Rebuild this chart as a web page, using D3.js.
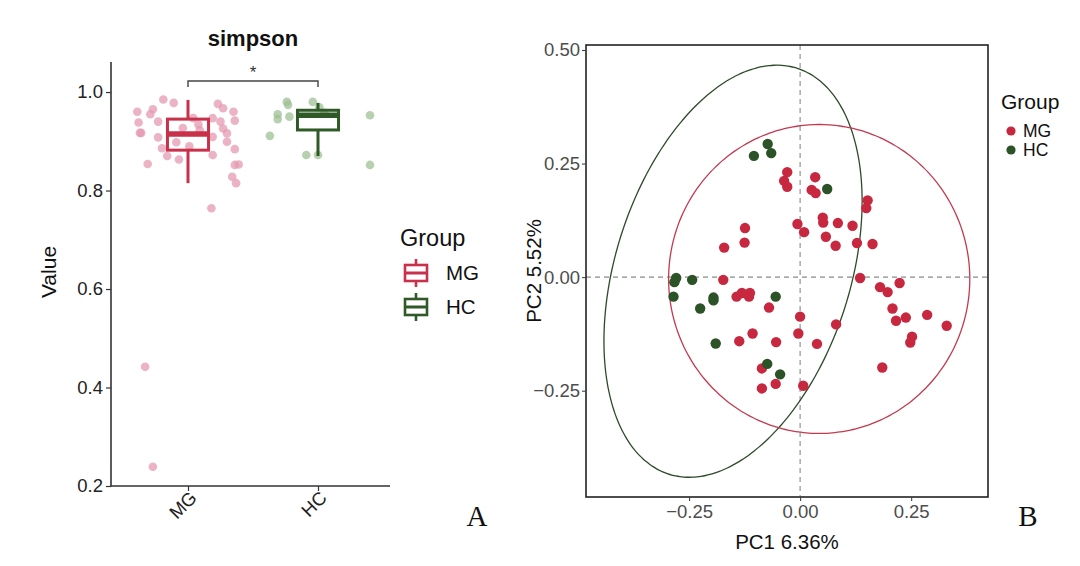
<!DOCTYPE html>
<html><head><meta charset="utf-8">
<script src="https://cdn.jsdelivr.net/npm/d3@7"></script>
<style>body{margin:0;background:#fff}</style>
</head><body>
<svg id="c" width="1080" height="566" xmlns="http://www.w3.org/2000/svg"></svg>
<script>
// ---------- Panel A data ----------
const groups = ["MG", "HC"];
const mgValues = [0.985,0.978,0.960,0.965,0.955,0.938,0.940,0.917,0.917,0.908,0.886,0.870,0.863,0.854,0.890,0.934,0.923,0.976,0.967,0.960,0.947,0.940,0.942,0.926,0.916,0.909,0.899,0.884,0.872,0.852,0.853,0.828,0.815,0.764,0.442,0.239,0.927,0.947,0.898];
const mgJitter = [-0.19,-0.11,-0.39,-0.27,-0.29,-0.38,-0.23,-0.37,-0.36,-0.23,-0.20,-0.16,-0.07,-0.31,0.01,0.08,0.09,0.23,0.27,0.35,0.19,0.25,0.36,0.27,0.30,0.19,0.30,0.36,0.19,0.36,0.39,0.34,0.37,0.18,-0.33,-0.27,-0.04,0.04,-0.09];
const hcValues = [0.980,0.974,0.955,0.945,0.950,0.911,0.980,0.969,0.872,0.872,0.953,0.852,0.958];
const hcJitter = [-0.24,-0.23,-0.31,-0.31,-0.22,-0.37,-0.04,0.01,-0.09,0.00,0.40,0.40,0.05];
const boxLow    = [0.815, 0.870];
const boxQ1     = [0.882, 0.923];
const boxMedian = [0.915, 0.953];
const boxQ3     = [0.945, 0.963];
const boxHigh   = [0.984, 0.978];
const yTicksA = [0.2, 0.4, 0.6, 0.8, 1.0];
const sigLabel = "*";

// ---------- Panel B data ----------
const mgPC1 = [-0.029,-0.036,-0.029,0.034,0.026,0.035,-0.006,0.009,-0.124,-0.125,-0.171,-0.173,-0.143,-0.131,-0.113,-0.115,-0.070,0.000,-0.004,0.038,-0.107,-0.137,-0.054,-0.086,-0.055,-0.086,0.007,0.152,0.149,0.051,0.052,0.085,0.118,0.058,0.080,0.128,0.163,0.135,0.180,0.197,0.224,0.208,0.216,0.238,0.286,0.330,0.252,0.248,0.185,0.081];
const mgPC2 = [0.231,0.212,0.199,0.220,0.192,0.185,0.117,0.099,0.108,0.076,0.065,-0.006,-0.043,-0.035,-0.035,-0.043,-0.067,-0.087,-0.124,-0.147,-0.124,-0.141,-0.143,-0.201,-0.235,-0.245,-0.239,0.169,0.152,0.131,0.120,0.119,0.113,0.089,0.069,0.075,0.073,-0.002,-0.022,-0.033,-0.013,-0.069,-0.096,-0.089,-0.083,-0.107,-0.131,-0.144,-0.199,-0.104];
const hcPC1 = [-0.073,-0.065,-0.104,0.061,-0.279,-0.283,-0.285,-0.243,-0.195,-0.195,-0.225,-0.055,-0.190,-0.074,-0.045];
const hcPC2 = [0.293,0.273,0.267,0.194,-0.002,-0.011,-0.043,-0.006,-0.045,-0.051,-0.069,-0.043,-0.146,-0.191,-0.214];
// ellipse parameters: [centerX, centerY, semiMajor, semiMinor, tiltDeg]
const mgEllipse = [0.043, -0.004, 0.340, 0.339, 0];
const hcEllipse = [-0.151, 0.013, 0.4695, 0.2641, 18.2];
const xTicksB = [-0.25, 0, 0.25];
const yTicksB = [-0.25, 0, 0.25, 0.5];

const colMG = "#c8283f", colHC = "#2c5227";
const boxMG = "#c9304a", boxHC = "#2f5a27";
const ptMG = "#e49ab0", ptHC = "#9fc095";
const font = "'Liberation Sans', Arial, sans-serif";

const svg = d3.select("#c");
svg.append("rect").attr("width",1080).attr("height",566).attr("fill","#fff");

// ================= Panel A =================
const A = svg.append("g").attr("font-family", font);
const xA = d3.scalePoint().domain(groups).range([188, 318]);
const stepA = xA(groups[1]) - xA(groups[0]);
const yA = d3.scaleLinear().domain([0.2, 1.061]).range([486, 62]);

// axes
const axY = A.append("g").attr("transform","translate(111,0)")
  .call(d3.axisLeft(yA).tickValues(yTicksA).tickFormat(d3.format(".1f")).tickSize(5).tickSizeOuter(0));
const axX = A.append("g").attr("transform","translate(0,486)")
  .call(d3.axisBottom(xA).tickSize(5).tickSizeOuter(0).tickFormat(""));
[axY, axX].forEach(g => {
  g.select(".domain").remove();
  g.selectAll("line").attr("stroke","#333").attr("stroke-width",1.2);
});
axY.selectAll("text").attr("font-size",18.5).attr("fill","#222").attr("font-family",font).attr("x",-8);
A.append("line").attr("x1",111).attr("x2",111).attr("y1",yA.range()[1]).attr("y2",486.5).attr("stroke","#333").attr("stroke-width",1.6);
A.append("line").attr("x1",110.5).attr("x2",390).attr("y1",486).attr("y2",486).attr("stroke","#333").attr("stroke-width",1.6);
groups.forEach(g => {
  A.append("text").attr("transform",`translate(${xA(g)+10},${499}) rotate(-45)`)
    .attr("text-anchor","end").attr("font-size",18.5).attr("fill","#222").text(g);
});

// points
const ptsA = [];
mgValues.forEach((v,i)=>ptsA.push({g:"MG", v, j:mgJitter[i]}));
hcValues.forEach((v,i)=>ptsA.push({g:"HC", v, j:hcJitter[i]}));
A.append("g").selectAll("circle").data(ptsA).join("circle")
  .attr("cx", d => xA(d.g) + d.j*stepA).attr("cy", d => yA(d.v)).attr("r",4.3)
  .attr("fill", d => d.g==="MG" ? ptMG : ptHC).attr("opacity",0.75);

// boxes
const hw = 0.158*stepA;
groups.forEach((g,i) => {
  const c = i===0 ? boxMG : boxHC, cx = xA(g);
  const bg = A.append("g").attr("stroke", c).attr("fill","none");
  bg.append("line").attr("x1",cx).attr("x2",cx).attr("y1",yA(boxHigh[i])).attr("y2",yA(boxQ3[i])).attr("stroke-width",3);
  bg.append("line").attr("x1",cx).attr("x2",cx).attr("y1",yA(boxQ1[i])).attr("y2",yA(boxLow[i])).attr("stroke-width",3);
  bg.append("rect").attr("x",cx-hw).attr("y",yA(boxQ3[i])).attr("width",2*hw)
    .attr("height",yA(boxQ1[i])-yA(boxQ3[i])).attr("stroke-width",3);
  bg.append("line").attr("x1",cx-hw).attr("x2",cx+hw).attr("y1",yA(boxMedian[i])).attr("y2",yA(boxMedian[i])).attr("stroke-width",5.5);
});

// significance bracket
const sy = 81;
A.append("path").attr("d",`M${xA("MG")},${sy+6}V${sy}H${xA("HC")}V${sy+6}`)
  .attr("fill","none").attr("stroke","#444").attr("stroke-width",1.4);
A.append("text").attr("x",(xA("MG")+xA("HC"))/2).attr("y",sy-3).attr("text-anchor","middle")
  .attr("font-size",17).attr("fill","#333").text(sigLabel);

// title & labels
A.append("text").attr("x",(xA("MG")+xA("HC"))/2).attr("y",46).attr("text-anchor","middle")
  .attr("font-size",22).attr("font-weight","bold").attr("fill","#111").text("simpson");
A.append("text").attr("transform","translate(56,272) rotate(-90)").attr("text-anchor","middle")
  .attr("font-size",21).attr("fill","#111").text("Value");

// legend A
A.append("text").attr("x",400).attr("y",246).attr("font-size",23.5).attr("fill","#111").text("Group");
groups.forEach((g,i) => {
  const c = i===0 ? boxMG : boxHC, cy = 273 + i*34, cx = 416;
  const lg = A.append("g").attr("stroke",c).attr("fill","none").attr("stroke-width",2.6);
  lg.append("line").attr("x1",cx).attr("x2",cx).attr("y1",cy-14).attr("y2",cy+14);
  lg.append("rect").attr("x",cx-11).attr("y",cy-8).attr("width",22).attr("height",16).attr("fill","#fff");
  lg.append("line").attr("x1",cx-11).attr("x2",cx+11).attr("y1",cy).attr("y2",cy).attr("stroke-width",3);
  A.append("text").attr("x",446).attr("y",cy+7).attr("font-size",20.5).attr("fill","#111").text(g);
});
A.append("text").attr("x",477).attr("y",526).attr("text-anchor","middle")
  .attr("font-family","'Liberation Serif', 'Times New Roman', serif").attr("font-size",29).attr("fill","#111").text("A");

// ================= Panel B =================
const B = svg.append("g").attr("font-family", font);
const xB = d3.scaleLinear().domain([-0.482, 0.423]).range([586, 988]);
const yB = d3.scaleLinear().domain([-0.484, 0.511]).range([497, 45]);

// dashed reference lines
B.append("line").attr("x1",xB(0)).attr("x2",xB(0)).attr("y1",yB.range()[1]).attr("y2",yB.range()[0])
  .attr("stroke","#8a8a8a").attr("stroke-width",1.1).attr("stroke-dasharray","5,4");
B.append("line").attr("x1",xB.range()[0]).attr("x2",xB.range()[1]).attr("y1",yB(0)).attr("y2",yB(0))
  .attr("stroke","#8a8a8a").attr("stroke-width",1.1).attr("stroke-dasharray","5,4");

// ellipses
function ellipsePts(p){
  const [cx,cy,a,b,deg] = p, f = deg*Math.PI/180;
  const ux = Math.sin(f), uy = Math.cos(f), vx = Math.cos(f), vy = -Math.sin(f);
  return d3.range(0, 361, 2).map(t => {
    const r = t*Math.PI/180;
    return [cx + a*Math.cos(r)*ux + b*Math.sin(r)*vx, cy + a*Math.cos(r)*uy + b*Math.sin(r)*vy];
  });
}
const lineB = d3.line().x(d=>xB(d[0])).y(d=>yB(d[1])).curve(d3.curveCardinalClosed);
B.append("path").attr("d", lineB(ellipsePts(hcEllipse))).attr("fill","none").attr("stroke","#2e4a2b").attr("stroke-width",1.3);
B.append("path").attr("d", lineB(ellipsePts(mgEllipse))).attr("fill","none").attr("stroke","#c23a50").attr("stroke-width",1.3);

// points
const ptsB = [];
mgPC1.forEach((x,i)=>ptsB.push({g:"MG", x, y:mgPC2[i]}));
hcPC1.forEach((x,i)=>ptsB.push({g:"HC", x, y:hcPC2[i]}));
B.append("g").selectAll("circle").data(ptsB).join("circle")
  .attr("cx", d=>xB(d.x)).attr("cy", d=>yB(d.y)).attr("r",5.2)
  .attr("fill", d => d.g==="MG" ? colMG : colHC);

// border
B.append("rect").attr("x",586).attr("y",45).attr("width",402).attr("height",452)
  .attr("fill","none").attr("stroke","#222").attr("stroke-width",1.6);

// axes
const fmtB = d3.format(".2f");
const axBx = B.append("g").attr("transform","translate(0,497)")
  .call(d3.axisBottom(xB).tickValues(xTicksB).tickFormat(fmtB).tickSize(4).tickSizeOuter(0));
const axBy = B.append("g").attr("transform","translate(586,0)")
  .call(d3.axisLeft(yB).tickValues(yTicksB).tickFormat(fmtB).tickSize(4).tickSizeOuter(0));
[axBx, axBy].forEach(g => {
  g.select(".domain").remove();
  g.selectAll("line").attr("stroke","#444").attr("stroke-width",1.1);
  g.selectAll("text").attr("font-size",18.5).attr("fill","#4d4d4d").attr("font-family",font);
});
axBx.selectAll("text").attr("y",8);
axBy.selectAll("text").attr("x",-6);

B.append("text").attr("x",787).attr("y",549).attr("text-anchor","middle").attr("font-size",20.5).attr("fill","#111").text("PC1 6.36%");
B.append("text").attr("transform","translate(541,271) rotate(-90)").attr("text-anchor","middle").attr("font-size",20.5).attr("fill","#111").text("PC2 5.52%");

// legend B
B.append("text").attr("x",1001).attr("y",109).attr("font-size",21).attr("fill","#111").text("Group");
groups.forEach((g,i) => {
  const cy = 131 + i*19;
  B.append("circle").attr("cx",1011).attr("cy",cy).attr("r",4.6).attr("fill", i===0?colMG:colHC);
  B.append("text").attr("x",1023).attr("y",cy+6).attr("font-size",17.5).attr("fill","#111").text(g);
});
B.append("text").attr("x",1028).attr("y",526).attr("text-anchor","middle")
  .attr("font-family","'Liberation Serif', 'Times New Roman', serif").attr("font-size",29).attr("fill","#111").text("B");
</script>
</body></html>
